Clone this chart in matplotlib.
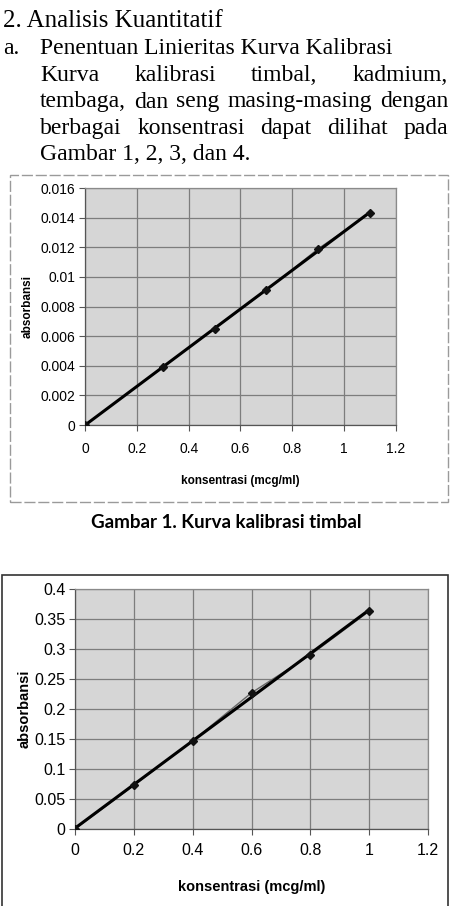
import numpy as np
import matplotlib.pyplot as plt
from matplotlib.patches import Rectangle

W, H = 453, 906

# --- data: Gambar 1 (timbal) ---
konsentrasi_pb = [0.0, 0.3, 0.5, 0.7, 0.9, 1.1]
absorbansi_pb = [0.0, 0.0039, 0.0065, 0.0091, 0.0119, 0.0143]
yticks_pb = [0, 0.002, 0.004, 0.006, 0.008, 0.01, 0.012, 0.014, 0.016]
ylabels_pb = ['0', '0.002', '0.004', '0.006', '0.008', '0.01', '0.012', '0.014', '0.016']

# --- data: Gambar 2 (kadmium) ---
konsentrasi_cd = [0.0, 0.2, 0.4, 0.6, 0.8, 1.0]
absorbansi_cd = [0.0, 0.0726, 0.147, 0.227, 0.290, 0.363]
yticks_cd = [0, 0.05, 0.1, 0.15, 0.2, 0.25, 0.3, 0.35, 0.4]
ylabels_cd = ['0', '0.05', '0.1', '0.15', '0.2', '0.25', '0.3', '0.35', '0.4']

xticks = [0, 0.2, 0.4, 0.6, 0.8, 1, 1.2]
xlabels = ['0', '0.2', '0.4', '0.6', '0.8', '1', '1.2']

heading = '2. Analisis Kuantitatif'
subheading = 'Penentuan Linieritas Kurva Kalibrasi'
paragraph = [
    'Kurva kalibrasi timbal, kadmium,',
    'tembaga, dan seng masing-masing dengan',
    'berbagai konsentrasi dapat dilihat pada',
]
last_line = 'Gambar 1, 2, 3, dan 4.'
caption1 = 'Gambar 1. Kurva kalibrasi timbal'

SERIF = ['Liberation Serif', 'DejaVu Serif']
SANS = ['Liberation Sans', 'DejaVu Sans']

fig = plt.figure(figsize=(W / 100, H / 100), dpi=100)
fig.patch.set_facecolor('white')


def fx(x):
    return x / W


def fy(y):
    return 1 - y / H


def px_axes(left, top, right, bottom):
    return fig.add_axes([fx(left), fy(bottom), (right - left) / W, (bottom - top) / H])


# --- top text ---
fs_body = 17
fig.text(fx(3), fy(27), heading, fontsize=18, family=SERIF, va='baseline')
fig.text(fx(3), fy(54), 'a.', fontsize=fs_body, family=SERIF, va='baseline')
fig.text(fx(40), fy(54), subheading, fontsize=fs_body, family=SERIF, va='baseline')

renderer = fig.canvas.get_renderer()


def justify(line, y, x0=40, x1=448):
    words = line.split()
    texts = [fig.text(0, fy(y), w, fontsize=fs_body, family=SERIF, va='baseline') for w in words]
    widths = [t.get_window_extent(renderer).width for t in texts]
    gap = (x1 - x0 - sum(widths)) / (len(words) - 1)
    x = x0
    for t, w in zip(texts, widths):
        t.set_x(fx(x))
        x += w + gap


for i, line in enumerate(paragraph):
    justify(line, 81 + i * 26.5)
fig.text(fx(40), fy(160), last_line, fontsize=fs_body, family=SERIF, va='baseline')


def draw_chart(ax, xs, ys, yticks, ylabels, ymax, tick_fs, label_fs):
    ax.set_facecolor('#d6d6d6')
    ax.set_xlim(0, 1.2)
    ax.set_ylim(0, ymax)
    ax.set_xticks(xticks)
    ax.set_xticklabels(xlabels)
    ax.set_yticks(yticks)
    ax.set_yticklabels(ylabels)
    ax.grid(True, color='#7d7d7d', linewidth=0.9)
    ax.set_axisbelow(True)
    for s in ax.spines.values():
        s.set_color('#8a8a8a')
        s.set_linewidth(0.9)
    ax.spines['left'].set_color('#555555')
    ax.spines['bottom'].set_color('#555555')
    ax.tick_params(direction='out', length=4, width=0.8, color='#555555',
                   labelsize=tick_fs)
    ax.tick_params(axis='y', pad=3)
    ax.tick_params(axis='x', pad=8)
    for lab in ax.get_xticklabels() + ax.get_yticklabels():
        lab.set_family(SANS)
    # data points joined, plus linear trendline
    ax.plot(xs, ys, color='#666666', linewidth=1.0, zorder=3)
    k, b = np.polyfit(xs, ys, 1)
    xf = np.array([xs[0], xs[-1]])
    ax.plot(xf, k * xf + b, color='black', linewidth=2.2, zorder=4)
    ax.plot(xs, ys, linestyle='none', marker='D', markersize=4.5, color='#111111', zorder=5)
    ax.set_xlabel('konsentrasi (mcg/ml)', fontsize=label_fs, fontweight='bold', family=SANS)
    ax.set_ylabel('absorbansi', fontsize=label_fs, fontweight='bold', family=SANS)


# --- chart 1 frame ---
fig.patches.append(Rectangle((fx(10), fy(502)), (448 - 10) / W, (502 - 175) / H,
                             transform=fig.transFigure, fill=False,
                             edgecolor='#9a9a9a', linewidth=1.0, linestyle=(0, (8, 2))))
ax1 = px_axes(85, 188, 396, 425)
draw_chart(ax1, konsentrasi_pb, absorbansi_pb, yticks_pb, ylabels_pb, 0.016, 10, 8.5)
ax1.yaxis.set_label_coords((34 - 85) / 311, 0.5)
ax1.xaxis.set_label_coords(0.5, -(475 - 425) / 237)

fig.text(0.5, fy(522), caption1, fontsize=13.5, fontweight='bold',
         family=['Lato', 'DejaVu Sans'], ha='center', va='center')

# --- chart 2 frame ---
fig.patches.append(Rectangle((fx(1.5), fy(912)), (448 - 1.5) / W, (912 - 575) / H,
                             transform=fig.transFigure, fill=False,
                             edgecolor='#333333', linewidth=1.2))
ax2 = px_axes(75, 589, 428, 829)
draw_chart(ax2, konsentrasi_cd, absorbansi_cd, yticks_cd, ylabels_cd, 0.4, 11.5, 10.5)
ax2.tick_params(axis='x', pad=6)
ax2.yaxis.set_label_coords((32 - 75) / 353, 0.5)
ax2.xaxis.set_label_coords(0.5, -(880 - 829) / 240)

fig.savefig('out.png', dpi=100)
